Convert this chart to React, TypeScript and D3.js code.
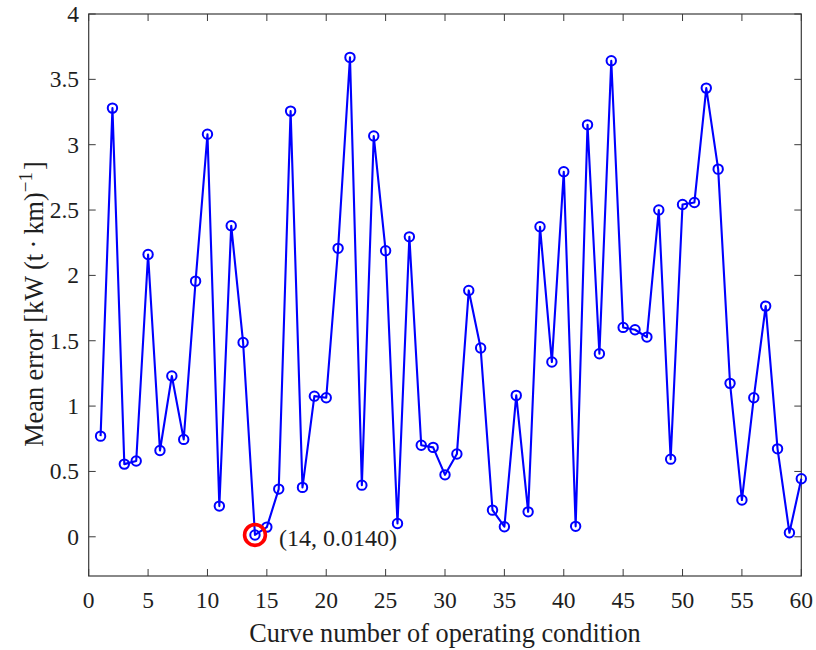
import React from "react";
import * as d3 from "d3";

// Mean error per operating-condition curve (curve numbers 1..60)
const curveNumbers: number[] = d3.range(1, 61);
const meanErrors: number[] = [
  0.77, 3.28, 0.556, 0.58, 2.16, 0.66, 1.23, 0.745, 1.956, 3.08,
  0.235, 2.38, 1.487, 0.014, 0.074, 0.365, 3.257, 0.378, 1.076, 1.064,
  2.207, 3.668, 0.395, 3.066, 2.188, 0.102, 2.295, 0.70, 0.684, 0.474,
  0.633, 1.885, 1.444, 0.204, 0.077, 1.082, 0.191, 2.372, 1.337, 2.793,
  0.08, 3.152, 1.40, 3.642, 1.602, 1.584, 1.528, 2.50, 0.594, 2.543,
  2.558, 3.433, 2.813, 1.174, 0.281, 1.064, 1.765, 0.673, 0.031, 0.444,
];
const xTicks: number[] = d3.range(0, 61, 5);
const yTicks: number[] = [0, 0.5, 1, 1.5, 2, 2.5, 3, 3.5, 4];
const minIndex = 14;
const minLabel = "(14, 0.0140)";

const W = 816;
const H = 650;
const left = 88.7;
const right = 801.3;
const top = 14;
const bottom = 576;
const font = "'Liberation Serif', 'Times New Roman', serif";
const axisColor = "#3a3a3a";
const textColor = "#1e1e1e";
const tickLen = 7;

export default function App() {
  const x = d3.scaleLinear().domain([0, 60]).range([left, right]);
  const y = d3.scaleLinear().domain([-0.3, 4]).range([bottom, top]);
  const line = d3
    .line<number>()
    .x((_, i) => x(curveNumbers[i]))
    .y((d) => y(d));
  const minVal = meanErrors[minIndex - 1];

  return (
    <svg
      width={W}
      height={H}
      style={{ position: "absolute", left: 0, top: 0, background: "#fff" }}
      fontFamily={font}
    >
      <rect x={0} y={0} width={W} height={H} fill="#fff" />
      {/* ticks on all four sides, pointing inward */}
      {xTicks.map((t) => (
        <g key={"xt" + t} stroke={axisColor} strokeWidth={1}>
          <line x1={x(t)} x2={x(t)} y1={bottom} y2={bottom - tickLen} />
          <line x1={x(t)} x2={x(t)} y1={top} y2={top + tickLen} />
        </g>
      ))}
      {yTicks.map((t) => (
        <g key={"yt" + t} stroke={axisColor} strokeWidth={1}>
          <line x1={left} x2={left + tickLen} y1={y(t)} y2={y(t)} />
          <line x1={right} x2={right - tickLen} y1={y(t)} y2={y(t)} />
        </g>
      ))}
      <rect
        x={left}
        y={top}
        width={right - left}
        height={bottom - top}
        fill="none"
        stroke={axisColor}
        strokeWidth={1.2}
      />
      {/* tick labels */}
      {xTicks.map((t) => (
        <text
          key={"xl" + t}
          x={x(t)}
          y={608}
          fontSize={23.5}
          textAnchor="middle"
          fill={textColor}
        >
          {t}
        </text>
      ))}
      {yTicks.map((t) => (
        <text
          key={"yl" + t}
          x={79}
          y={y(t) + 8}
          fontSize={23.5}
          textAnchor="end"
          fill={textColor}
        >
          {t}
        </text>
      ))}
      {/* axis titles */}
      <text
        x={(left + right) / 2}
        y={642}
        fontSize={26.3}
        textAnchor="middle"
        fill={textColor}
      >
        Curve number of operating condition
      </text>
      <text
        transform={`translate(43, 304) rotate(-90)`}
        fontSize={26.3}
        textAnchor="middle"
        fill={textColor}
      >
        Mean error [kW (t{"\u2009·\u2009"}km)
        <tspan dy={-11} fontSize={19}>{"\u2212"}1</tspan>
        <tspan dy={11} dx={2}>]</tspan>
      </text>
      {/* series */}
      <path
        d={line(meanErrors) ?? ""}
        fill="none"
        stroke="#0000ff"
        strokeWidth={2.1}
        strokeLinejoin="round"
      />
      {meanErrors.map((v, i) => (
        <circle
          key={"m" + i}
          cx={x(curveNumbers[i])}
          cy={y(v)}
          r={4.7}
          fill="none"
          stroke="#0000ff"
          strokeWidth={2}
        />
      ))}
      {/* highlighted minimum */}
      <circle
        cx={x(minIndex)}
        cy={y(minVal)}
        r={10.4}
        fill="none"
        stroke="#ff0000"
        strokeWidth={3.6}
      />
      <text x={279} y={546} fontSize={24} fill={textColor}>
        {minLabel}
      </text>
    </svg>
  );
}
